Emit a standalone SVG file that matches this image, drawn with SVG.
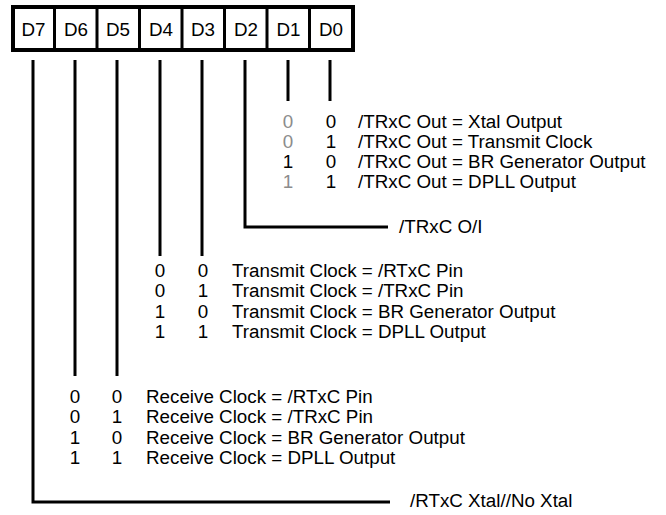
<svg xmlns="http://www.w3.org/2000/svg" width="666" height="515" viewBox="0 0 666 515">
<style>
text{font-family:"Liberation Sans",Arial,sans-serif;font-size:18.8px;fill:#000}
.c{text-anchor:middle}
.g{fill:#8c8c8c}
.ln{stroke:#000;stroke-width:3;fill:none}
</style>
<rect width="666" height="515" fill="#fff"/>
<g id="register">
<rect x="13" y="7" width="340" height="43" fill="#fff" stroke="#000" stroke-width="4"/>
<path class="ln" d="M54.5 7V50M97 7V50M139.5 7V50M182 7V50M224.5 7V50M267 7V50M309.5 7V50"/>
<text class="c" x="33.5" y="35.5">D7</text>
<text class="c" x="76" y="35.5">D6</text>
<text class="c" x="118" y="35.5">D5</text>
<text class="c" x="161" y="35.5">D4</text>
<text class="c" x="203" y="35.5">D3</text>
<text class="c" x="246" y="35.5">D2</text>
<text class="c" x="288.5" y="35.5">D1</text>
<text class="c" x="331" y="35.5">D0</text>
</g>
<g id="connectors">
<path class="ln" d="M288 60V101M330 60V101"/>
<path class="ln" d="M245 60V227H388"/>
<path class="ln" d="M160 60V256M202 60V256"/>
<path class="ln" d="M75 60V376M117 60V376"/>
<path class="ln" d="M33 60V502H390"/>
</g>
<g id="trxc-out-table">
<text class="c g" x="288" y="128">0</text><text class="c" x="331" y="128">0</text><text x="358" y="128">/TRxC Out = Xtal Output</text>
<text class="c g" x="288" y="148">0</text><text class="c" x="331" y="148">1</text><text x="358" y="148">/TRxC Out = Transmit Clock</text>
<text class="c" x="288" y="168">1</text><text class="c" x="331" y="168">0</text><text x="358" y="168">/TRxC Out = BR Generator Output</text>
<text class="c g" x="288" y="188">1</text><text class="c" x="331" y="188">1</text><text x="358" y="188">/TRxC Out = DPLL Output</text>
</g>
<g id="trxc-oi"><text x="399" y="233">/TRxC O/I</text></g>
<g id="transmit-table">
<text class="c" x="160" y="277">0</text><text class="c" x="203" y="277">0</text><text x="232" y="277">Transmit Clock = /RTxC Pin</text>
<text class="c" x="160" y="297">0</text><text class="c" x="203" y="297">1</text><text x="232" y="297">Transmit Clock = /TRxC Pin</text>
<text class="c" x="160" y="318">1</text><text class="c" x="203" y="318">0</text><text x="232" y="318">Transmit Clock = BR Generator Output</text>
<text class="c" x="160" y="338">1</text><text class="c" x="203" y="338">1</text><text x="232" y="338">Transmit Clock = DPLL Output</text>
</g>
<g id="receive-table">
<text class="c" x="75" y="403">0</text><text class="c" x="117" y="403">0</text><text x="146" y="403">Receive Clock = /RTxC Pin</text>
<text class="c" x="75" y="423">0</text><text class="c" x="117" y="423">1</text><text x="146" y="423">Receive Clock = /TRxC Pin</text>
<text class="c" x="75" y="444">1</text><text class="c" x="117" y="444">0</text><text x="146" y="444">Receive Clock = BR Generator Output</text>
<text class="c" x="75" y="464">1</text><text class="c" x="117" y="464">1</text><text x="146" y="464">Receive Clock = DPLL Output</text>
</g>
<g id="rtxc-xtal"><text x="410" y="507">/RTxC Xtal//No Xtal</text></g>
</svg>
